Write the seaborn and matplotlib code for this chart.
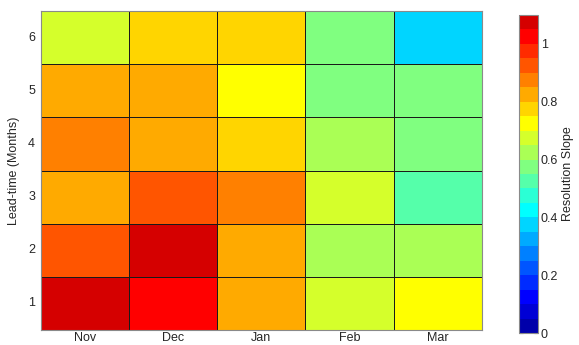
import numpy as np
import pandas as pd
import matplotlib
matplotlib.use("Agg")
import matplotlib.pyplot as plt
from matplotlib.colors import ListedColormap
import seaborn as sns

sns.set_style("white")
plt.rcParams['font.family'] = ['Liberation Sans', 'DejaVu Sans']

months = ["Nov", "Dec", "Jan", "Feb", "Mar"]
lead_times = [1, 2, 3, 4, 5, 6]

# Resolution slope per lead time (rows) and target month (columns)
slope_lead1 = [1.07, 1.02, 0.82, 0.67, 0.72]
slope_lead2 = [0.92, 1.07, 0.82, 0.62, 0.62]
slope_lead3 = [0.82, 0.92, 0.87, 0.67, 0.52]
slope_lead4 = [0.87, 0.82, 0.77, 0.62, 0.57]
slope_lead5 = [0.82, 0.82, 0.72, 0.57, 0.57]
slope_lead6 = [0.67, 0.77, 0.77, 0.57, 0.37]

cbar_ticks = [0, 0.2, 0.4, 0.6, 0.8, 1.0]
cbar_ticklabels = ["0", "0.2", "0.4", "0.6", "0.8", "1"]

rows = [slope_lead1, slope_lead2, slope_lead3, slope_lead4, slope_lead5, slope_lead6]
df = pd.DataFrame(rows, index=lead_times, columns=months).iloc[::-1]

# Discrete 24-step jet, lowest 22 steps shown over 0..1.1
def jet_steps(m):
    n = int(np.ceil(m / 4))
    u = np.concatenate([np.arange(1, n + 1) / n, np.ones(n - 1), np.arange(n, 0, -1) / n])
    g = int(np.ceil(n / 2)) - (1 if m % 4 == 1 else 0) + np.arange(1, len(u) + 1)
    r = g + n
    b = g - n
    cols = np.zeros((m, 3))
    for idx, chan in ((r, 0), (g, 1), (b, 2)):
        ok = (idx >= 1) & (idx <= m)
        cols[idx[ok] - 1, chan] = u[ok]
    return cols

cmap = ListedColormap(jet_steps(24)[:22])

fig = plt.figure(figsize=(5.79, 3.45), dpi=100)
ax = fig.add_axes([40.7 / 579, 1 - 330 / 345, 441 / 579, 319 / 345])
cax = fig.add_axes([519 / 579, 1 - 333 / 345, 19 / 579, 318 / 345])

sns.heatmap(df, ax=ax, cmap=cmap, vmin=0, vmax=1.1, linewidths=0.6,
            linecolor="#1a1a1a", cbar_ax=cax,
            cbar_kws={"ticks": cbar_ticks})

for s in ax.spines.values():
    s.set_visible(True)
    s.set_color("#8a8a8a")
    s.set_linewidth(0.8)

ax.set_xlabel("")
ax.set_ylabel("Lead-time (Months)", fontsize=9, labelpad=6)
ax.tick_params(axis="both", labelsize=9, length=0)
ax.tick_params(axis="x", pad=1.5)
ax.tick_params(axis="y", pad=4)
ax.set_yticklabels([str(v) for v in df.index], rotation=0)
ax.set_xticklabels(months, rotation=0)

cb = ax.collections[0].colorbar
cb.set_ticks(cbar_ticks)
cb.set_ticklabels(cbar_ticklabels)
cb.ax.tick_params(labelsize=9, direction="in", length=3, left=True, right=True, pad=2)
cb.outline.set_edgecolor("#8a8a8a")
cb.outline.set_linewidth(0.8)
cb.set_label("Resolution Slope", fontsize=9, labelpad=3)

fig.savefig("out.png", dpi=100)
